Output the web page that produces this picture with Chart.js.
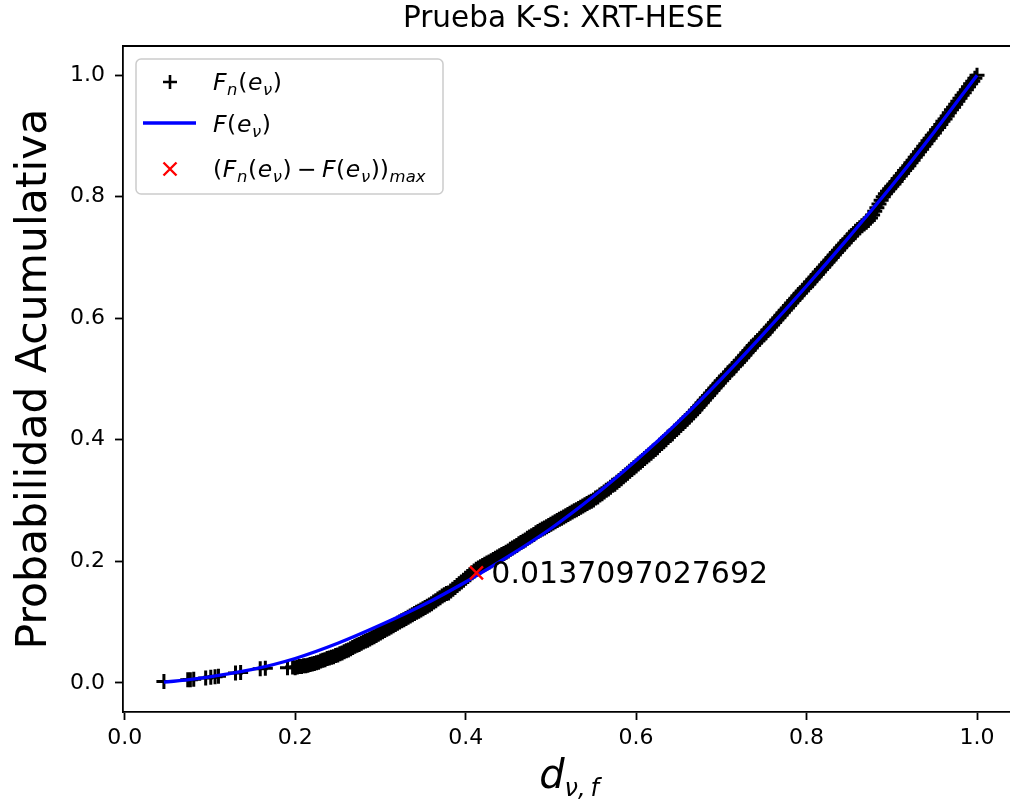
<!DOCTYPE html>
<html>
<head>
<meta charset="utf-8">
<script src="https://cdn.jsdelivr.net/npm/chart.js@4.4.1/dist/chart.umd.min.js"></script>
<style>
html, body { margin: 0; padding: 0; background: #fff; overflow: hidden; }
#wrap { width: 1010px; height: 806px; }
</style>
</head>
<body>
<div id="wrap"><canvas id="chart1" width="1010" height="806"></canvas></div>
<script>
// Datos
const titulo = "Prueba K-S: XRT-HESE";
const tituloY = "Probabilidad Acumulativa";
const ticksX = [0.0, 0.2, 0.4, 0.6, 0.8, 1.0];
const ticksY = [0.0, 0.2, 0.4, 0.6, 0.8, 1.0];

// Fn(e) - distribucion empirica (marcadores +)
const ecdfX = [0.046, 0.074, 0.077, 0.081, 0.095, 0.101, 0.106, 0.110, 0.130, 0.136, 0.159, 0.165, 0.191, 0.197,
    0.2000, 0.2025, 0.2050, 0.2075, 0.2100, 0.2125, 0.2150, 0.2175, 0.2200, 0.2225, 0.2250, 0.2275, 0.2300, 0.2325, 0.2350, 0.2375,
    0.2400, 0.2425, 0.2450, 0.2475, 0.2500, 0.2525, 0.2550, 0.2575, 0.2600, 0.2625, 0.2650, 0.2675, 0.2700, 0.2725, 0.2750, 0.2775,
    0.2800, 0.2825, 0.2850, 0.2875, 0.2900, 0.2925, 0.2950, 0.2975, 0.3000, 0.3025, 0.3050, 0.3075, 0.3100, 0.3125, 0.3150, 0.3175,
    0.3200, 0.3225, 0.3250, 0.3275, 0.3300, 0.3325, 0.3350, 0.3375, 0.3400, 0.3425, 0.3450, 0.3475, 0.3500, 0.3525, 0.3550, 0.3575,
    0.3600, 0.3625, 0.3650, 0.3675, 0.3700, 0.3725, 0.3750, 0.3775, 0.3800, 0.3825, 0.3850, 0.3875, 0.3900, 0.3925, 0.3950, 0.3975,
    0.4000, 0.4025, 0.4050, 0.4075, 0.4100, 0.4125, 0.4150, 0.4175, 0.4200, 0.4225, 0.4250, 0.4275, 0.4300, 0.4325, 0.4350, 0.4375,
    0.4400, 0.4425, 0.4450, 0.4475, 0.4500, 0.4525, 0.4550, 0.4575, 0.4600, 0.4625, 0.4650, 0.4675, 0.4700, 0.4725, 0.4750, 0.4775,
    0.4800, 0.4825, 0.4850, 0.4875, 0.4900, 0.4925, 0.4950, 0.4975, 0.5000, 0.5025, 0.5050, 0.5075, 0.5100, 0.5125, 0.5150, 0.5175,
    0.5200, 0.5225, 0.5250, 0.5275, 0.5300, 0.5325, 0.5350, 0.5375, 0.5400, 0.5425, 0.5450, 0.5475, 0.5500, 0.5525, 0.5550, 0.5575,
    0.5600, 0.5625, 0.5650, 0.5675, 0.5700, 0.5725, 0.5750, 0.5775, 0.5800, 0.5825, 0.5850, 0.5875, 0.5900, 0.5925, 0.5950, 0.5975,
    0.6000, 0.6025, 0.6050, 0.6075, 0.6100, 0.6125, 0.6150, 0.6175, 0.6200, 0.6225, 0.6250, 0.6275, 0.6300, 0.6325, 0.6350, 0.6375,
    0.6400, 0.6425, 0.6450, 0.6475, 0.6500, 0.6525, 0.6550, 0.6575, 0.6600, 0.6625, 0.6650, 0.6675, 0.6700, 0.6725, 0.6750, 0.6775,
    0.6800, 0.6825, 0.6850, 0.6875, 0.6900, 0.6925, 0.6950, 0.6975, 0.7000, 0.7025, 0.7050, 0.7075, 0.7100, 0.7125, 0.7150, 0.7175,
    0.7200, 0.7225, 0.7250, 0.7275, 0.7300, 0.7325, 0.7350, 0.7375, 0.7400, 0.7425, 0.7450, 0.7475, 0.7500, 0.7525, 0.7550, 0.7575,
    0.7600, 0.7625, 0.7650, 0.7675, 0.7700, 0.7725, 0.7750, 0.7775, 0.7800, 0.7825, 0.7850, 0.7875, 0.7900, 0.7925, 0.7950, 0.7975,
    0.8000, 0.8025, 0.8050, 0.8075, 0.8100, 0.8125, 0.8150, 0.8175, 0.8200, 0.8225, 0.8250, 0.8275, 0.8300, 0.8325, 0.8350, 0.8375,
    0.8400, 0.8425, 0.8450, 0.8475, 0.8500, 0.8525, 0.8550, 0.8575, 0.8600, 0.8625, 0.8650, 0.8675, 0.8700, 0.8725, 0.8750, 0.8775,
    0.8800, 0.8825, 0.8850, 0.8875, 0.8900, 0.8925, 0.8950, 0.8975, 0.9000, 0.9025, 0.9050, 0.9075, 0.9100, 0.9125, 0.9150, 0.9175,
    0.9200, 0.9225, 0.9250, 0.9275, 0.9300, 0.9325, 0.9350, 0.9375, 0.9400, 0.9425, 0.9450, 0.9475, 0.9500, 0.9525, 0.9550, 0.9575,
    0.9600, 0.9625, 0.9650, 0.9675, 0.9700, 0.9725, 0.9750, 0.9775, 0.9800, 0.9825, 0.9850, 0.9875, 0.9900, 0.9925, 0.9950, 0.9975,
    1.0000];
const ecdfY = [0.002, 0.005, 0.005, 0.006, 0.008, 0.009, 0.010, 0.011, 0.016, 0.017, 0.023, 0.024, 0.025, 0.026,
    0.025, 0.026, 0.027, 0.027, 0.028, 0.028, 0.029, 0.030, 0.031, 0.032, 0.033, 0.034, 0.036, 0.037, 0.038, 0.040,
    0.041, 0.042, 0.043, 0.045, 0.046, 0.048, 0.049, 0.051, 0.053, 0.054, 0.056, 0.058, 0.060, 0.062, 0.063, 0.065,
    0.067, 0.069, 0.070, 0.072, 0.074, 0.076, 0.078, 0.080, 0.082, 0.084, 0.086, 0.088, 0.090, 0.092, 0.094, 0.096,
    0.098, 0.100, 0.102, 0.104, 0.106, 0.108, 0.110, 0.112, 0.114, 0.116, 0.118, 0.120, 0.122, 0.124, 0.126, 0.128,
    0.130, 0.133, 0.135, 0.138, 0.140, 0.143, 0.145, 0.147, 0.148, 0.151, 0.154, 0.157, 0.160, 0.163, 0.166, 0.169,
    0.172, 0.175, 0.178, 0.181, 0.184, 0.187, 0.189, 0.191, 0.193, 0.195, 0.197, 0.199, 0.201, 0.203, 0.205, 0.207,
    0.209, 0.211, 0.213, 0.215, 0.217, 0.220, 0.222, 0.224, 0.226, 0.229, 0.231, 0.233, 0.235, 0.238, 0.240, 0.242,
    0.244, 0.247, 0.249, 0.251, 0.253, 0.255, 0.257, 0.259, 0.261, 0.263, 0.265, 0.267, 0.269, 0.271, 0.273, 0.275,
    0.277, 0.279, 0.281, 0.283, 0.285, 0.287, 0.289, 0.291, 0.293, 0.295, 0.297, 0.299, 0.301, 0.304, 0.306, 0.309,
    0.311, 0.314, 0.317, 0.319, 0.322, 0.325, 0.327, 0.330, 0.333, 0.336, 0.339, 0.342, 0.345, 0.348, 0.351, 0.354,
    0.357, 0.360, 0.363, 0.366, 0.369, 0.372, 0.375, 0.378, 0.381, 0.384, 0.387, 0.391, 0.394, 0.397, 0.400, 0.404,
    0.407, 0.410, 0.414, 0.417, 0.420, 0.424, 0.427, 0.431, 0.434, 0.438, 0.441, 0.445, 0.449, 0.453, 0.457, 0.461,
    0.465, 0.469, 0.473, 0.477, 0.481, 0.485, 0.489, 0.493, 0.497, 0.501, 0.505, 0.508, 0.512, 0.516, 0.520, 0.523,
    0.527, 0.531, 0.535, 0.539, 0.543, 0.547, 0.551, 0.555, 0.559, 0.563, 0.566, 0.570, 0.573, 0.577, 0.581, 0.585,
    0.589, 0.593, 0.597, 0.601, 0.605, 0.609, 0.613, 0.617, 0.621, 0.625, 0.629, 0.633, 0.637, 0.641, 0.645, 0.649,
    0.652, 0.656, 0.660, 0.664, 0.668, 0.672, 0.676, 0.680, 0.684, 0.688, 0.692, 0.696, 0.700, 0.704, 0.708, 0.712,
    0.716, 0.720, 0.724, 0.728, 0.731, 0.735, 0.739, 0.743, 0.746, 0.749, 0.752, 0.755, 0.758, 0.761, 0.765, 0.770,
    0.776, 0.782, 0.788, 0.794, 0.800, 0.805, 0.809, 0.813, 0.817, 0.821, 0.825, 0.830, 0.834, 0.838, 0.843, 0.847,
    0.851, 0.856, 0.860, 0.865, 0.869, 0.874, 0.878, 0.883, 0.887, 0.892, 0.896, 0.901, 0.905, 0.910, 0.914, 0.919,
    0.924, 0.928, 0.933, 0.938, 0.943, 0.947, 0.952, 0.957, 0.962, 0.967, 0.971, 0.976, 0.981, 0.986, 0.990, 0.995,
    1.000];

// F(e) - distribucion teorica (linea azul)
const cdfX = [0.046, 0.08, 0.10, 0.15, 0.20, 0.25, 0.30, 0.35, 0.40, 0.45, 0.50, 0.55, 0.60, 0.65, 0.70, 0.75, 0.80, 0.85, 0.90, 0.95, 1.00];
const cdfY = [0.001, 0.006, 0.010, 0.022, 0.040, 0.065, 0.095, 0.128, 0.166, 0.208, 0.254, 0.307, 0.366, 0.430, 0.500, 0.575, 0.653, 0.734, 0.818, 0.907, 1.000];

// maxima diferencia
const maxX = [0.4127];
const maxY = [0.181];
const ksTexto = "0.0137097027692";
const ksX = 0.4302;
const ksY = 0.1645;

const FONT = '"DejaVu Sans"';

function toPoints(xs, ys) {
    return xs.map((x, i) => ({ x: x, y: ys[i] }));
}

// texto tipo mathtext: [texto, estilo] con estilo 'r', 'i', 'is' (italica subindice)
function drawRich(ctx, x, y, parts, size, subScale, gap, measureOnly) {
    let cx = x;
    for (const [t, st] of parts) {
        const sub = st.includes('s');
        const fs = sub ? size * subScale : size;
        ctx.font = (st.includes('i') ? 'italic ' : '') + fs + 'px ' + FONT;
        if (!measureOnly) ctx.fillText(t, cx, y + (sub ? size * 0.2 : 0));
        cx += ctx.measureText(t).width + gap;
    }
    return cx - x;
}

const legendRows = [
    { kind: 'plus', color: '#000000', y: 90, parts: [['F', 'i'], ['n', 'is'], ['(', 'r'], ['e', 'i'], ['\u03bd', 'is'], [')', 'r']] },
    { kind: 'line', color: '#0000ff', y: 132, parts: [['F', 'i'], ['(', 'r'], ['e', 'i'], ['\u03bd', 'is'], [')', 'r']] },
    { kind: 'x', color: '#ff0000', y: 177, parts: [['(', 'r'], ['F', 'i'], ['n', 'is'], ['(', 'r'], ['e', 'i'], ['\u03bd', 'is'], [')', 'r'],
        ['\u2009\u2212\u2009', 'r'], ['F', 'i'], ['(', 'r'], ['e', 'i'], ['\u03bd', 'is'], ['))', 'r'], ['max', 'is']] }
];

const decorPlugin = {
    id: 'decor',
    afterDatasetsDraw(chart) {
        const ctx = chart.ctx;
        const area = chart.chartArea;
        const sx = chart.scales.x, sy = chart.scales.y;
        ctx.save();

        // borde superior de los ejes
        ctx.strokeStyle = '#000';
        ctx.lineWidth = 1.8;
        ctx.beginPath();
        ctx.moveTo(area.left - 0.9, area.top);
        ctx.lineTo(area.right, area.top);
        ctx.stroke();

        // texto de la diferencia maxima
        ctx.fillStyle = '#000';
        ctx.textAlign = 'left';
        ctx.textBaseline = 'alphabetic';
        ctx.font = '30px ' + FONT;
        ctx.fillText(ksTexto, sx.getPixelForValue(ksX), sy.getPixelForValue(ksY));

        // titulo
        ctx.font = '29.5px ' + FONT;
        ctx.textAlign = 'center';
        ctx.fillText(titulo, 563, 27);

        // etiqueta del eje x: d_{nu, f}
        ctx.textAlign = 'left';
        const xParts = [['d', 'i'], ['\u03bd,\u2009f', 'is']];
        const w = drawRich(ctx, 0, 0, xParts, 40, 0.6, 0, true);
        drawRich(ctx, 569 - w / 2, 788, xParts, 40, 0.6, 0, false);

        // leyenda
        const bx = 136, by = 59, bw = 307, bh = 135, r = 5;
        ctx.beginPath();
        ctx.moveTo(bx + r, by);
        ctx.arcTo(bx + bw, by, bx + bw, by + bh, r);
        ctx.arcTo(bx + bw, by + bh, bx, by + bh, r);
        ctx.arcTo(bx, by + bh, bx, by, r);
        ctx.arcTo(bx, by, bx + bw, by, r);
        ctx.closePath();
        ctx.fillStyle = 'rgba(255,255,255,0.8)';
        ctx.fill();
        ctx.strokeStyle = '#cccccc';
        ctx.lineWidth = 1.5;
        ctx.stroke();

        for (const row of legendRows) {
            const my = row.y - 8;
            ctx.strokeStyle = row.color;
            ctx.beginPath();
            if (row.kind === 'plus') {
                ctx.lineWidth = 2.6;
                ctx.moveTo(163, my); ctx.lineTo(177, my);
                ctx.moveTo(170, my - 7); ctx.lineTo(170, my + 7);
            } else if (row.kind === 'line') {
                ctx.lineWidth = 3.3;
                ctx.moveTo(143, my - 1); ctx.lineTo(196, my - 1);
            } else {
                ctx.lineWidth = 2.4;
                ctx.moveTo(163.5, my - 6.5); ctx.lineTo(176.5, my + 6.5);
                ctx.moveTo(163.5, my + 6.5); ctx.lineTo(176.5, my - 6.5);
            }
            ctx.stroke();
            ctx.fillStyle = '#000';
            drawRich(ctx, 213, row.y, row.parts, 23.5, 0.7, 0.6, false);
        }
        ctx.restore();
    }
};

const ctx = document.getElementById("chart1").getContext('2d');

const chart = new Chart(ctx, {
    type: 'scatter',
    data: {
        datasets: [{
            label: 'Fn(e\u03bd)',
            data: toPoints(ecdfX, ecdfY),
            pointStyle: 'cross',
            pointRadius: 7.5,
            pointBorderWidth: 3,
            borderColor: '#000000',
            backgroundColor: '#000000',
            order: 3
        }, {
            label: 'F(e\u03bd)',
            data: toPoints(cdfX, cdfY),
            showLine: true,
            pointRadius: 0,
            borderColor: '#0000ff',
            borderWidth: 3.3,
            cubicInterpolationMode: 'monotone',
            order: 2
        }, {
            label: '(Fn(e\u03bd) - F(e\u03bd))max',
            data: toPoints(maxX, maxY),
            pointStyle: 'crossRot',
            pointRadius: 9.2,
            pointBorderWidth: 2.4,
            borderColor: '#ff0000',
            backgroundColor: '#ff0000',
            order: 1
        }]
    },
    options: {
        responsive: false,
        animation: false,
        layout: { autoPadding: false, padding: { top: 46, right: 0, bottom: 0, left: 0 } },
        plugins: {
            legend: { display: false },
            title: { display: false },
            tooltip: { enabled: false }
        },
        scales: {
            x: {
                type: 'linear',
                min: -0.002,
                max: 1.0387,
                afterBuildTicks: s => { s.ticks = ticksX.map(v => ({ value: v })); },
                afterFit: s => { s.height = 94; s.paddingRight = 0; s.paddingLeft = 0; },
                ticks: {
                    callback: v => v.toFixed(1),
                    font: { family: 'DejaVu Sans', size: 22 },
                    color: '#000',
                    padding: 5,
                    maxRotation: 0
                },
                grid: { drawOnChartArea: false, drawTicks: true, tickLength: 8, tickWidth: 1.8, tickColor: '#000' },
                border: { display: true, color: '#000', width: 1.8 }
            },
            y: {
                type: 'linear',
                min: -0.048,
                max: 1.048,
                afterBuildTicks: s => { s.ticks = ticksY.map(v => ({ value: v })); },
                afterFit: s => { s.width = 123; },
                ticks: {
                    callback: v => v.toFixed(1),
                    font: { family: 'DejaVu Sans', size: 22 },
                    color: '#000',
                    padding: 10
                },
                grid: { drawOnChartArea: false, drawTicks: true, tickLength: 8, tickWidth: 1.8, tickColor: '#000' },
                border: { display: true, color: '#000', width: 1.8 },
                title: {
                    display: true,
                    text: tituloY,
                    color: '#000',
                    font: { family: 'DejaVu Sans', size: 42.5 },
                    padding: { top: 9, bottom: 0 }
                }
            }
        }
    },
    plugins: [decorPlugin]
});
</script>
</body>
</html>
